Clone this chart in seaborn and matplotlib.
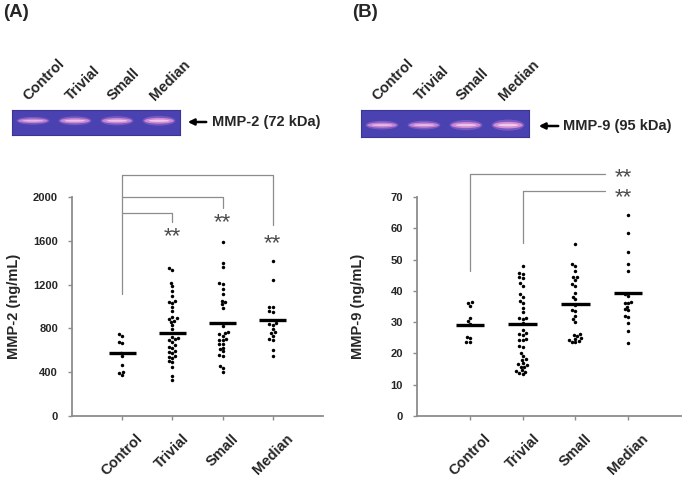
import numpy as np
import pandas as pd
import matplotlib
matplotlib.use("Agg")
import matplotlib.pyplot as plt
import seaborn as sns
from matplotlib.patches import Ellipse, FancyArrowPatch

# ---------------- data ----------------
categories = ["Control", "Trivial", "Small", "Median"]

mmp2_control = [750, 735, 680, 665, 575, 545, 470, 405, 390, 375]
mmp2_trivial = [1348, 1333, 1217, 1187, 1144, 1096, 1050, 1040, 1030, 998, 956,
                900, 892, 885, 870, 860, 831, 792, 725, 709, 700, 690, 676, 650,
                633, 625, 590, 580, 572, 548, 536, 530, 500, 490, 450, 365, 329]
mmp2_small = [1592, 1394, 1358, 1211, 1202, 1160, 1111, 1053, 1038, 1020, 989,
              825, 770, 755, 746, 730, 700, 694, 690, 660, 657, 624, 614, 593,
              557, 548, 459, 441, 399]
mmp2_median = [1418, 1242, 1000, 995, 955, 947, 852, 840, 831, 794, 765, 758,
               730, 700, 694, 603, 548]
mmp2_means = [572, 755, 848, 876]

mmp9_control = [36.3, 36.1, 35.1, 31.4, 30.4, 29.5, 25.3, 24.8, 23.6, 23.5]
mmp9_trivial = [48.0, 45.8, 45.3, 44.3, 44.0, 42.4, 41.5, 38.9, 38.0, 36.8, 36.0,
                34.6, 33.3, 31.4, 31.2, 31.0, 29.8, 27.5, 26.4, 26.2, 25.9, 24.5,
                24.4, 24.3, 22.5, 22.2, 20.2, 19.2, 18.1, 17.9, 16.8, 16.6, 16.4,
                15.8, 15.6, 14.7, 14.5, 14.2, 13.8, 13.5]
mmp9_small = [55.0, 48.5, 48.0, 46.4, 44.5, 44.3, 43.5, 42.1, 41.5, 39.2, 38.1,
              37.4, 35.4, 33.9, 33.6, 31.9, 30.9, 30.1, 26.1, 25.8, 25.5, 24.8,
              24.6, 24.3, 23.9, 23.7, 23.5]
mmp9_median = [64.4, 58.4, 52.5, 48.6, 46.4, 39.0, 38.3, 36.5, 36.2, 36.0, 35.0,
               34.1, 34.0, 32.0, 31.7, 29.6, 27.3, 23.4]
mmp9_means = [29.1, 29.4, 35.7, 39.3]

mmp2_ticks = [0, 400, 800, 1200, 1600, 2000]
mmp9_ticks = [0, 10, 20, 30, 40, 50, 60, 70]

gel_a_intensity = [0.55, 0.75, 0.80, 0.90]
gel_b_intensity = [0.60, 0.62, 0.85, 1.00]

# ---------------- style ----------------
sns.set_style("white")
plt.rcParams["font.family"] = ["Liberation Sans", "DejaVu Sans"]
plt.rcParams["font.weight"] = "bold"

W, H = 688, 482
fig = plt.figure(figsize=(W / 100, H / 100), dpi=100)


def fx(x):
    return x / W


def fy(y):
    return 1 - y / H


def make_df(groups):
    rows = []
    for cat, vals in zip(categories, groups):
        for v in vals:
            rows.append((cat, v))
    return pd.DataFrame(rows, columns=["group", "value"])


GRAY = "#8c8c8c"


def style_axis(ax, ticks, ylabel, label_x):
    ax.set_xlim(-1, 4)
    ax.set_ylim(ticks[0], ticks[-1])
    ax.set_yticks(ticks)
    ax.set_yticklabels([str(t) for t in ticks], fontsize=8, fontweight="bold")
    ax.set_xticks(range(len(categories)))
    ax.set_xticklabels(categories, rotation=45, ha="center", fontsize=10.5,
                       fontweight="bold")
    for s in ["top", "right"]:
        ax.spines[s].set_visible(False)
    for s in ["left", "bottom"]:
        ax.spines[s].set_color(GRAY)
        ax.spines[s].set_linewidth(1.3)
    ax.tick_params(axis="y", length=3, width=1, color=GRAY, pad=7, left=True)
    ax.tick_params(axis="x", length=3, width=1, color=GRAY, pad=8, bottom=True)
    ax.set_xlabel("")
    ax.set_ylabel(ylabel, fontsize=10.5, fontweight="bold")
    ax.yaxis.set_label_coords(label_x, 0.5)
    ax.set_facecolor("white")


def draw_panel(ax, groups, means):
    df = make_df(groups)
    sns.swarmplot(data=df, x="group", y="value", order=categories, color="black",
                  size=2.5, ax=ax, clip_on=False)
    ax.hlines(means, np.arange(len(categories)) - 0.27,
              np.arange(len(categories)) + 0.27, colors="black", linewidth=2.4,
              zorder=5)


# ---------------- panel A ----------------
axA = fig.add_axes([fx(72), fy(416), fx(323 - 72), (416 - 197) / H])
draw_panel(axA, [mmp2_control, mmp2_trivial, mmp2_small, mmp2_median], mmp2_means)
style_axis(axA, mmp2_ticks, "MMP-2 (ng/mL)", -0.205)

br = dict(color=GRAY, linewidth=0.9, clip_on=False)
axA.plot([0, 0], [1110, 2200], **br)
axA.plot([0, 3, 3], [2200, 2200, 1745], **br)
axA.plot([0, 2, 2], [2000, 2000, 1900], **br)
axA.plot([0, 1, 1], [1855, 1855, 1775], **br)
star = dict(fontsize=16, color="#4a4a4a", ha="center", va="center",
            fontweight="normal", clip_on=False)
axA.text(1, 1640, "**", **star)
axA.text(2, 1765, "**", **star)
axA.text(3, 1575, "**", **star)

# ---------------- panel B ----------------
axB = fig.add_axes([fx(417), fy(416), fx(681 - 417), (416 - 197) / H])
draw_panel(axB, [mmp9_control, mmp9_trivial, mmp9_small, mmp9_median], mmp9_means)
style_axis(axB, mmp9_ticks, "MMP-9 (ng/mL)", -0.198)

axB.plot([0, 0], [46.4, 77.5], **br)
axB.plot([0, 2.57], [77.5, 77.5], **br)
axB.plot([1, 1], [55.4, 72.0], **br)
axB.plot([1, 2.57], [72.0, 72.0], **br)
axB.text(2.9, 76.3, "**", **star)
axB.text(2.9, 69.9, "**", **star)


# ---------------- gels ----------------
def draw_gel(x0, y0, x1, y1, intensities, band_y, band_h, label, ax_x, ax_y0, text_x):
    g = fig.add_axes([fx(x0), fy(y1), fx(x1 - x0), (y1 - y0) / H])
    g.set_xlim(-0.5, 3.5)
    g.set_ylim(0, 1)
    g.set_facecolor("#4a42b0")
    for s in g.spines.values():
        s.set_color("#3b3596")
        s.set_linewidth(0.8)
    g.set_xticks([])
    g.set_yticks([])
    for i, inten in enumerate(intensities):
        hh = band_h * (0.8 + 0.6 * (inten - 0.5))
        g.add_patch(Ellipse((i, band_y), 0.78, hh * 1.7, color="#8a62c8",
                            alpha=0.75, lw=0))
        g.add_patch(Ellipse((i, band_y), 0.70, hh, color="#d990d6",
                            alpha=0.55 + 0.4 * inten, lw=0))
        g.add_patch(Ellipse((i, band_y), 0.5, hh * 0.4, color="#f3d2ee",
                            alpha=0.4 + 0.5 * inten, lw=0))
    for i, cat in enumerate(categories):
        g.annotate(cat, xy=(i, 1.0), xycoords=("data", "axes fraction"),
                   xytext=(-3.0, 6.5), textcoords="offset points", rotation=45,
                   rotation_mode="anchor", ha="left", va="baseline",
                   fontsize=10.5, fontweight="bold", annotation_clip=False)
    arr = FancyArrowPatch((fx(ax_x[1]), fy(ax_y0)), (fx(ax_x[0]), fy(ax_y0)),
                          transform=fig.transFigure, arrowstyle="-|>",
                          mutation_scale=9, linewidth=1.8, color="black")
    fig.add_artist(arr)
    fig.text(fx(text_x), fy(ax_y0), label, fontsize=10.5, fontweight="bold",
             ha="left", va="center")


draw_gel(12, 110, 180, 135, gel_a_intensity, 0.57, 0.22, "MMP-2 (72 kDa)",
         (185, 209), 122, 212)
draw_gel(361, 110, 529, 137, gel_b_intensity, 0.44, 0.22, "MMP-9 (95 kDa)",
         (536, 561), 126, 563)

fig.text(fx(3), fy(4), "(A)", fontsize=13.5, fontweight="bold", ha="left", va="top")
fig.text(fx(352), fy(4), "(B)", fontsize=13.5, fontweight="bold", ha="left", va="top")

fig.savefig("out.png", dpi=100, facecolor="white")
